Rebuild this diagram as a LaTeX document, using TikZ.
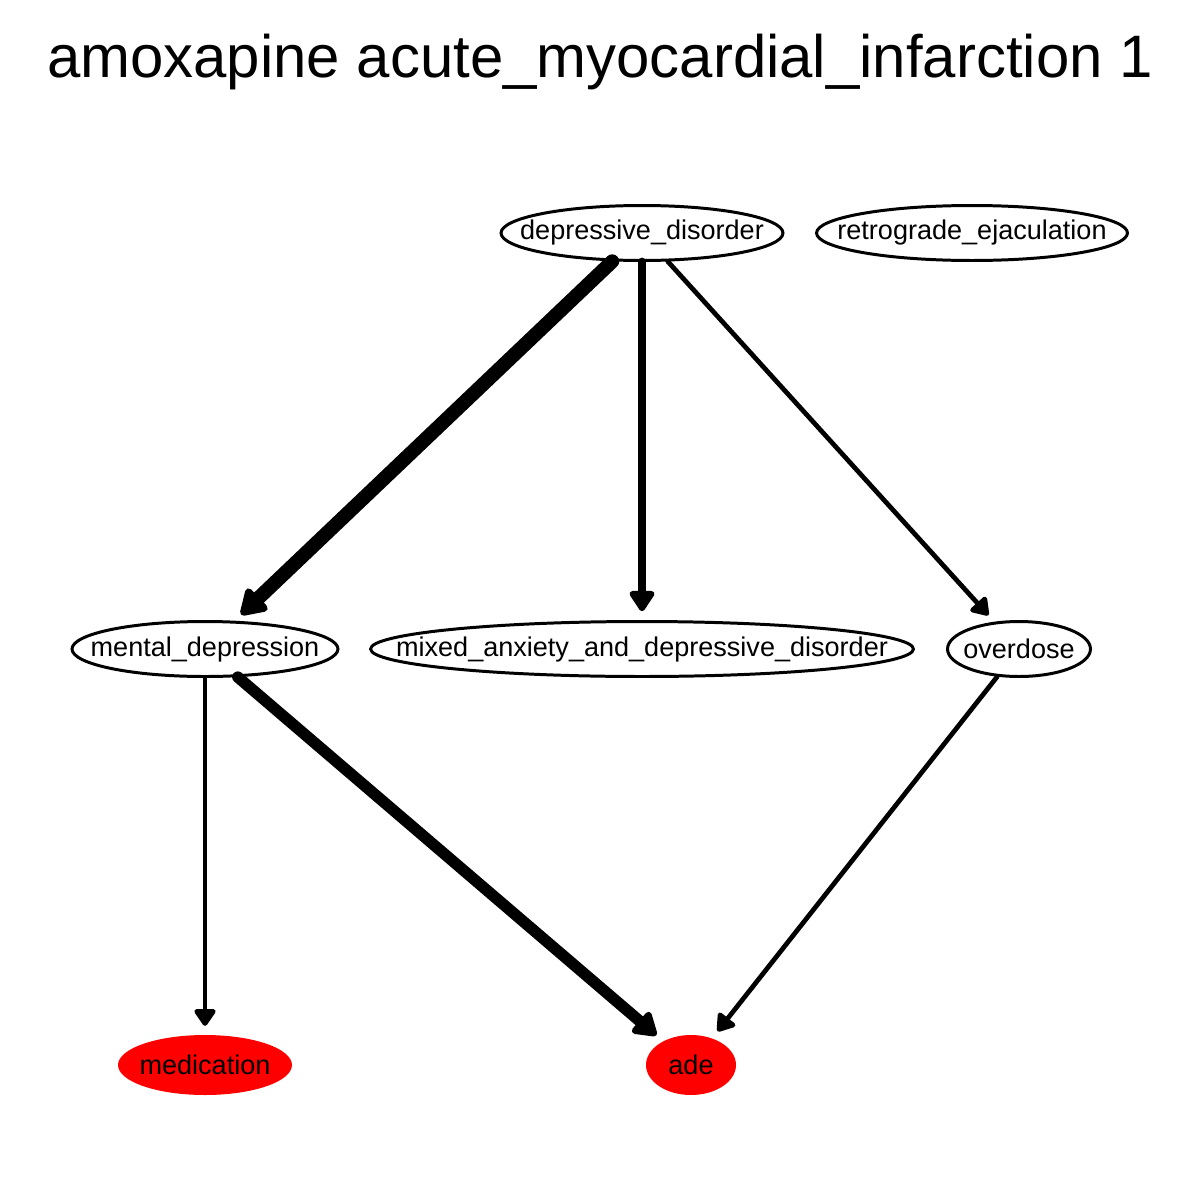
\documentclass[tikz,border=0pt]{standalone}
\usepackage{fontspec}
\setmainfont{Liberation Sans}
\usetikzlibrary{arrows.meta,shapes.geometric}
\newcommand{\lbl}[1]{\makebox[0pt]{#1}}

\begin{document}
\begin{tikzpicture}[x=0.02cm, y=-0.02cm, every node/.style={font=\fontsize{15.4}{18}\selectfont},
  term/.style={draw, ellipse, line width=1.7pt, inner sep=0pt, minimum height=1.1cm},
  hit/.style={ellipse, fill=red, inner sep=0pt, minimum height=1.2cm},
  link/.style={line cap=round, line width=#1, shorten >=5pt, -{Triangle[length=8pt 1, width=11pt 1, round]}},
  link/.default=2.7pt]
  \useasboundingbox (0,0) rectangle (1200,1200);
  \node[font=\fontsize{34.1}{40}\selectfont] (title) at (600,62) {amoxapine acute\_myocardial\_infarction 1};

  \node[term, minimum width=5.64cm] (dd) at (642,233) {\lbl{depressive\_disorder}};
  \node[term, minimum width=6.22cm] (re) at (972,233) {\lbl{retrograde\_ejaculation}};
  \node[term, minimum width=5.32cm] (md) at (205,649) {\lbl{mental\_depression}};
  \node[term, minimum width=10.86cm] (mixed) at (642,649) {\lbl{mixed\_anxiety\_and\_depressive\_disorder}};
  \node[term, minimum width=2.86cm] (od) at (1019,649) {\lbl{overdose}};
  \node[hit, minimum width=3.48cm] (med) at (205,1065) {\lbl{medication}};
  \node[hit, minimum width=1.8cm] (ade) at (691,1065) {\lbl{ade}};

  \draw[link=8pt] (dd) -- (md);
  \draw[link=5pt] (dd) -- (mixed);
  \draw[link] (dd) -- (od);
  \draw[link] (md) -- (med);
  \draw[link=6.5pt] (md) -- (ade);
  \draw[link] (od) -- (ade);
\end{tikzpicture}
\end{document}
